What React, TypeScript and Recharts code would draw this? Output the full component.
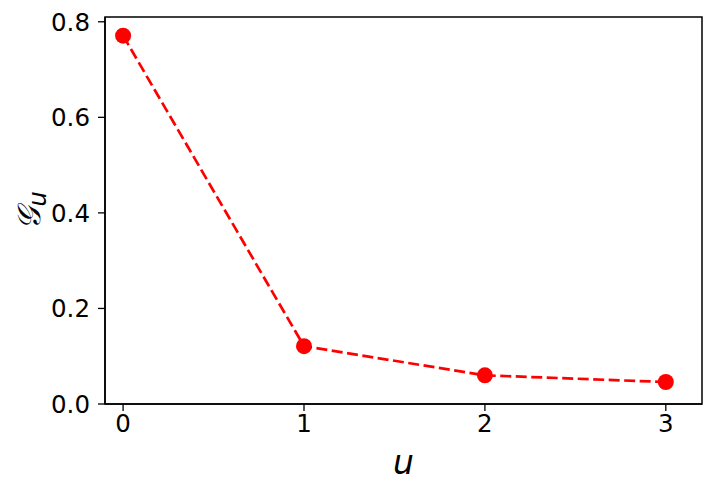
import React from "react";
import { LineChart, Line, XAxis, YAxis, ReferenceArea } from "recharts";

const uValues = [0, 1, 2, 3];
const gValues = [0.771, 0.121, 0.06, 0.046];
const xTicks = [0, 1, 2, 3];
const yTicks = [0, 0.2, 0.4, 0.6, 0.8];

const data = uValues.map((u, i) => ({ u, g: gValues[i] }));

const FONT = "DejaVu Sans";
const TICK_SIZE = 24.5;

const YLabel = (props: any) => {
  const { viewBox } = props;
  const cy = viewBox.y + viewBox.height / 2;
  return (
    <text
      x={0}
      y={0}
      transform={`translate(40, ${cy}) rotate(-90)`}
      textAnchor="middle"
      fontFamily={FONT}
      fill="#000"
    >
      <tspan fontSize={32} fontStyle="italic">𝒢</tspan>
      <tspan fontSize={24} fontStyle="italic" dy={6}>u</tspan>
    </text>
  );
};

const XTick = (props: any) => {
  const { x, y, payload } = props;
  return (
    <text
      x={x}
      y={y + 21}
      textAnchor="middle"
      fontFamily={FONT}
      fontSize={TICK_SIZE}
      fill="#000"
    >
      {payload.value}
    </text>
  );
};

const YTick = (props: any) => {
  const { x, y, payload } = props;
  return (
    <text
      x={x - 1}
      y={y + 9}
      textAnchor="end"
      fontFamily={FONT}
      fontSize={TICK_SIZE}
      fill="#000"
    >
      {Number(payload.value).toFixed(1)}
    </text>
  );
};

export default function App() {
  return (
    <div style={{ position: "absolute", left: 0, top: 0, background: "#fff" }}>
      <LineChart
        width={714}
        height={494}
        data={data}
        margin={{ top: 17, right: 12, left: 0, bottom: 0 }}
      >
        <XAxis
          dataKey="u"
          type="number"
          domain={[-0.1, 3.2]}
          ticks={xTicks}
          height={90}
          axisLine={{ stroke: "#000", strokeWidth: 1.5 }}
          tickLine={{ stroke: "#000", strokeWidth: 1.3 }}
          tickSize={7}
          tickMargin={0}
          tick={<XTick />}
          label={{
            value: "u",
            position: "insideBottom",
            offset: 20,
            style: { fill: "#000", fontSize: 33, fontStyle: "italic", fontFamily: FONT },
          }}
        />
        <YAxis
          type="number"
          domain={[0, 0.81]}
          ticks={yTicks}
          width={105}
          allowDataOverflow
          axisLine={{ stroke: "#000", strokeWidth: 1.5 }}
          tickLine={{ stroke: "#000", strokeWidth: 1.3 }}
          tickSize={7}
          tickMargin={7}
          tick={<YTick />}
          label={<YLabel />}
        />
        <ReferenceArea
          x1={-0.1}
          x2={3.2}
          y1={0}
          y2={0.81}
          fill="none"
          stroke="#000"
          strokeWidth={1.5}
          ifOverflow="visible"
        />
        <Line
          dataKey="g"
          stroke="#ff0000"
          strokeWidth={2.7}
          strokeDasharray="11 4.5"
          dot={{ r: 8, fill: "#ff0000", stroke: "none" }}
          isAnimationActive={false}
        />
      </LineChart>
    </div>
  );
}
